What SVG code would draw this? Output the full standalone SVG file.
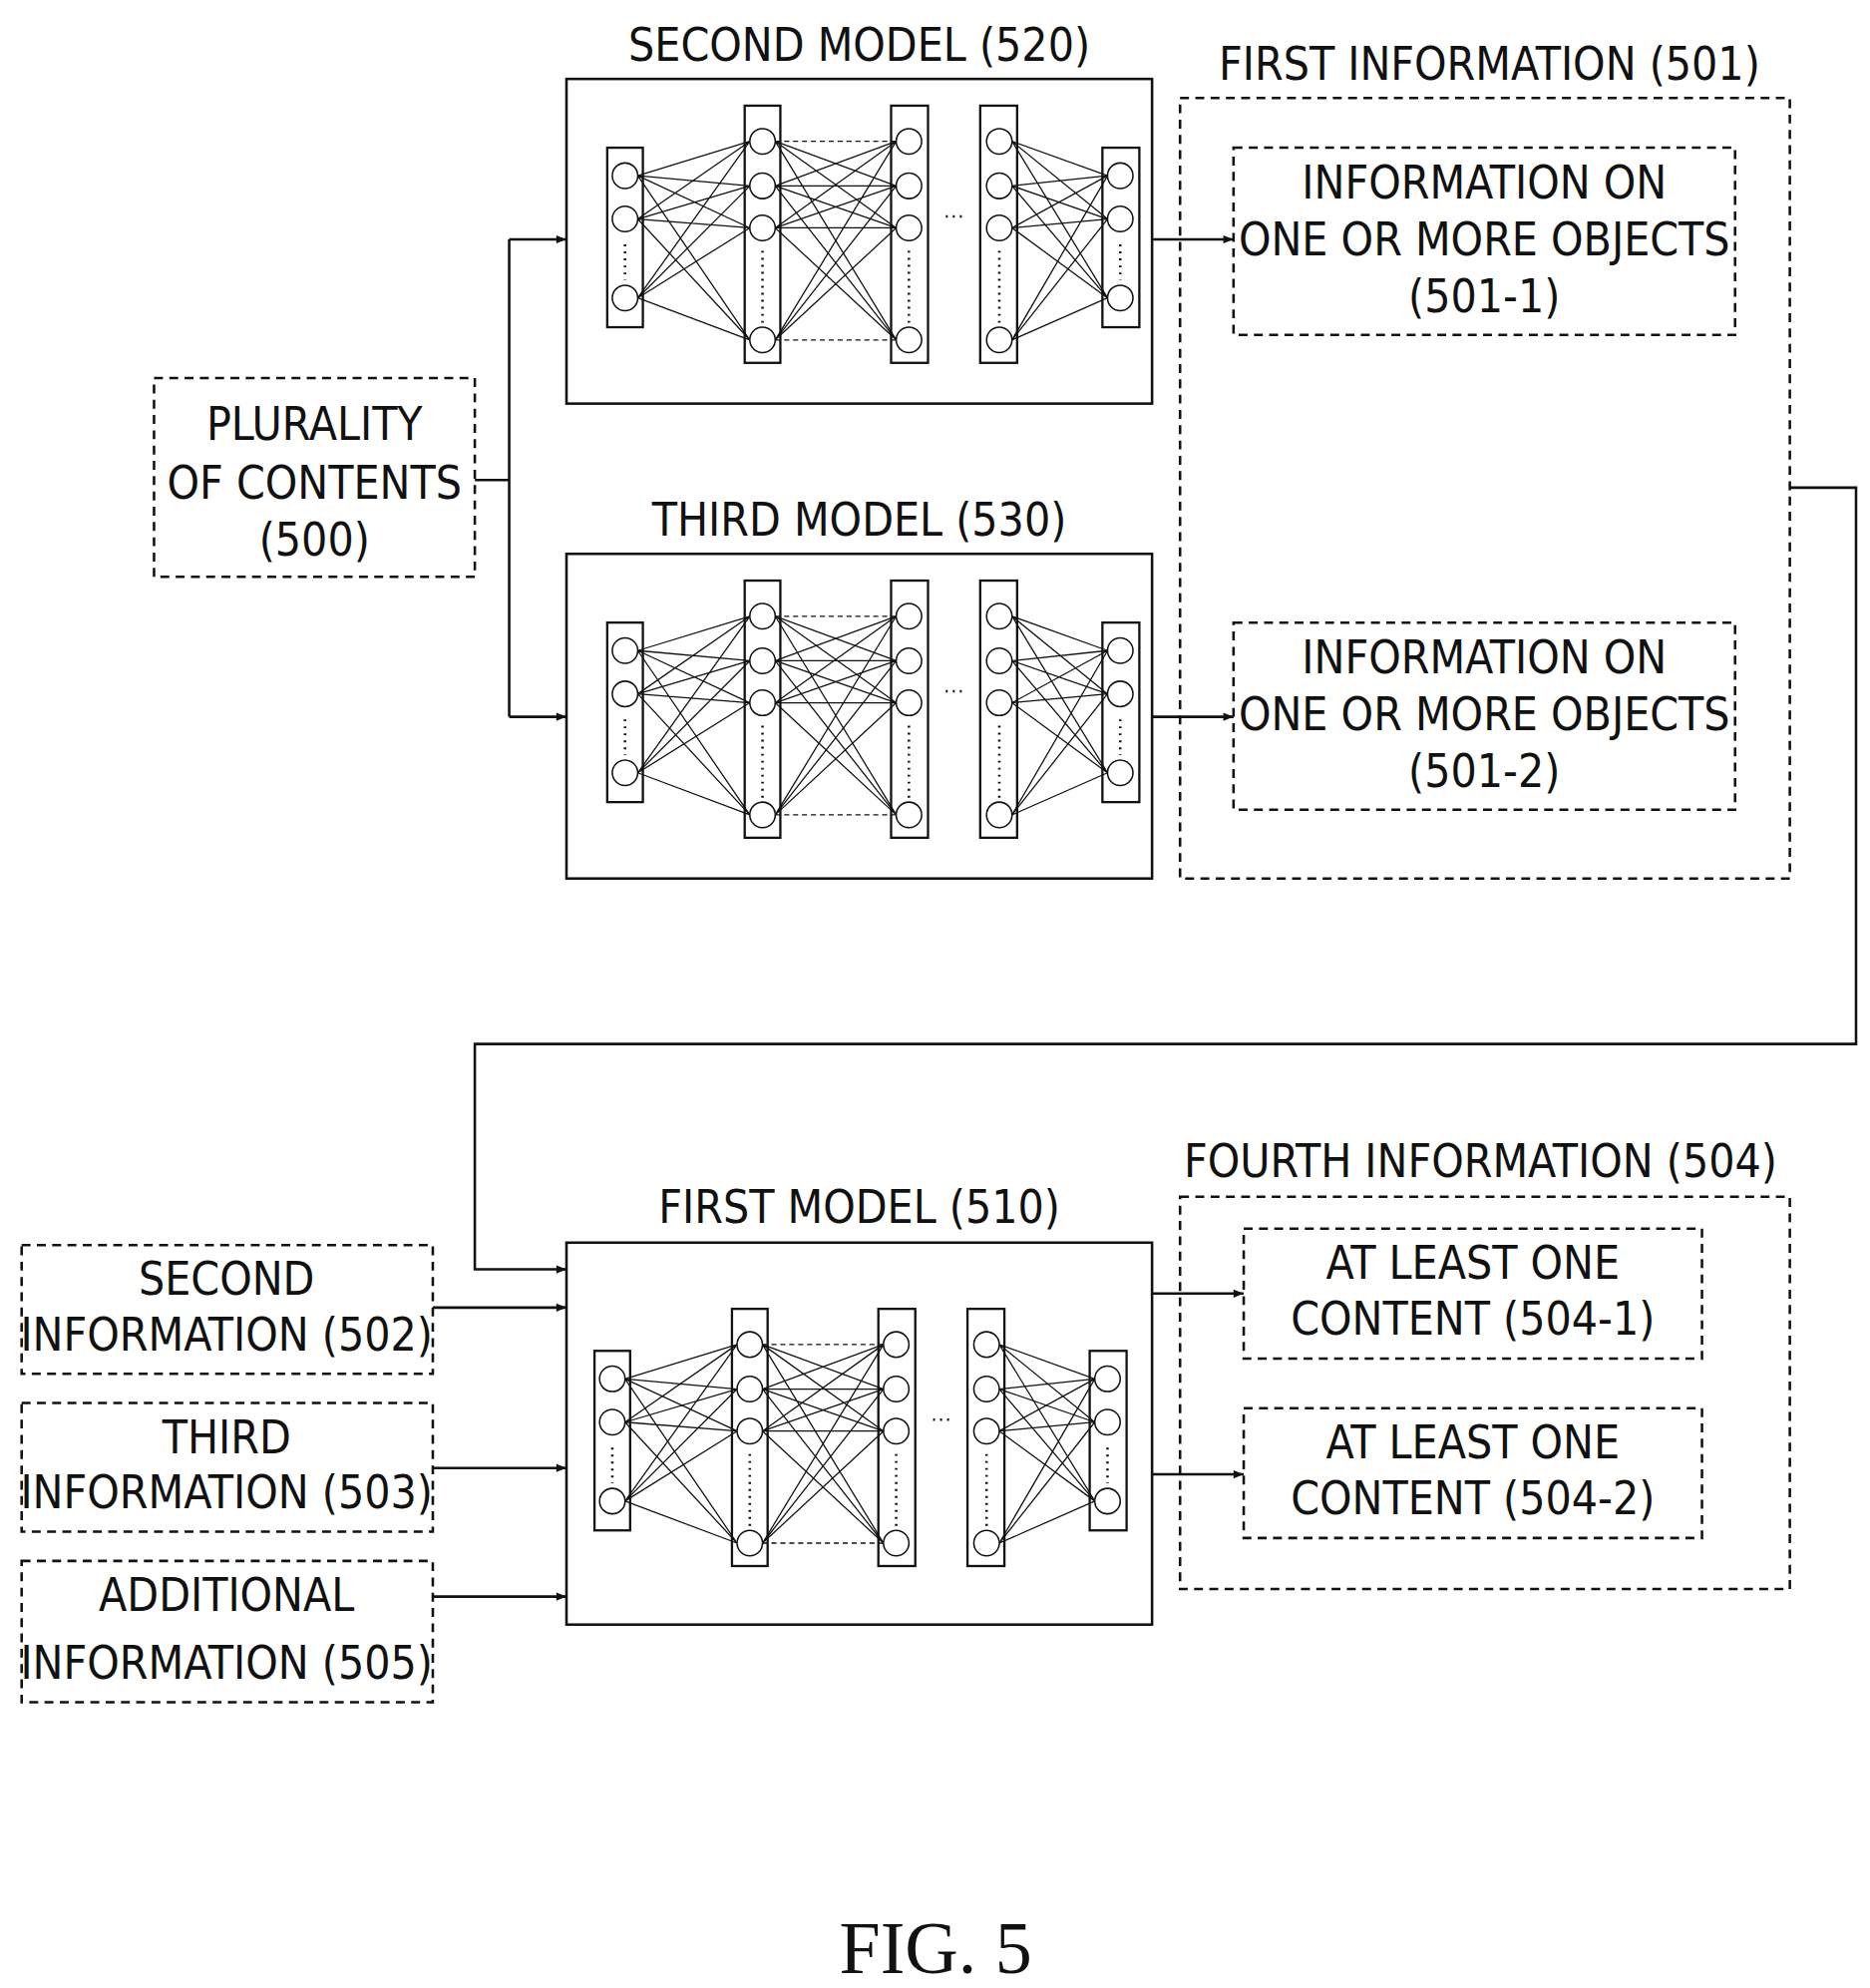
<svg xmlns="http://www.w3.org/2000/svg" xmlns:xlink="http://www.w3.org/1999/xlink" width="1875" height="1993" viewBox="0 0 1875 1993">
<style>
.t{font-family:"DejaVu Sans Condensed","DejaVu Sans",sans-serif;font-size:36px;text-anchor:middle;dominant-baseline:central;fill:#111}
.box{fill:none;stroke:#111;stroke-width:2}
.dbox{fill:none;stroke:#111;stroke-width:2;stroke-dasharray:7 5}
.ly{fill:none;stroke:#111;stroke-width:1.8}
.nd{fill:#fff;stroke:#111;stroke-width:1.2}
.ed{stroke:#111;stroke-width:1}
.cn{fill:none;stroke:#111;stroke-width:2}
</style>
<defs>
<marker id="ar" viewBox="0 0 10 10" refX="10" refY="5" markerWidth="10" markerHeight="8" markerUnits="userSpaceOnUse" orient="auto"><path d="M0,1 L10,5 L0,9 z" fill="#111"/></marker>
<symbol id="net" overflow="visible">
<g class="ed">
<path d="M56,76L144,49M56,76L144,84M56,76L144,117M56,76L144,205M56,110L144,49M56,110L144,84M56,110L144,117M56,110L144,205M56,172L144,49M56,172L144,84M56,172L144,117M56,172L144,205"/>
<path d="M164,84L259,84M164,49L259,84M164,49L259,117M164,49L259,205M164,84L259,49M164,84L259,117M164,84L259,205M164,117L259,49M164,117L259,84M164,117L259,117M164,117L259,205M164,205L259,49M164,205L259,84M164,205L259,117"/>
<path d="M164,49L259,49M164,205L259,205" stroke-dasharray="4 3"/>
<path d="M350,49L425,76M350,49L425,110M350,49L425,172M350,84L425,76M350,84L425,110M350,84L425,172M350,117L425,76M350,117L425,110M350,117L425,172M350,205L425,76M350,205L425,110M350,205L425,172"/>
</g>
<rect class="ly" x="32" y="54" width="28" height="141"/>
<rect class="ly" x="140" y="21" width="28" height="202"/>
<rect class="ly" x="255" y="21" width="29" height="202"/>
<rect class="ly" x="325" y="21" width="29" height="202"/>
<rect class="ly" x="421" y="54" width="29" height="141"/>
<g class="nd">
<circle cx="46" cy="76" r="10"/><circle cx="46" cy="110" r="10"/><circle cx="46" cy="172" r="10"/>
<circle cx="154" cy="49" r="10"/><circle cx="154" cy="84" r="10"/><circle cx="154" cy="117" r="10"/><circle cx="154" cy="205" r="10"/>
<circle cx="269" cy="49" r="10"/><circle cx="269" cy="84" r="10"/><circle cx="269" cy="117" r="10"/><circle cx="269" cy="205" r="10"/>
<circle cx="340" cy="49" r="10"/><circle cx="340" cy="84" r="10"/><circle cx="340" cy="117" r="10"/><circle cx="340" cy="205" r="10"/>
<circle cx="435" cy="76" r="10"/><circle cx="435" cy="110" r="10"/><circle cx="435" cy="172" r="10"/>
</g>
<g stroke="#111" stroke-width="2" stroke-dasharray="1.5 4" fill="none">
<path d="M46,130V158M154,135V192M269,135V192M340,135V192M435,130V158"/>
<path d="M298,108H312"/>
</g>
</symbol>
</defs>
<g transform="scale(1.2764)">
<g id="second-model"><text class="t" x="675" y="35">SECOND MODEL (520)</text><rect class="box" x="445" y="62" width="460" height="255"/><use xlink:href="#net" x="445" y="62"/></g>
<g id="third-model"><text class="t" x="675" y="408">THIRD MODEL (530)</text><rect class="box" x="445" y="435" width="460" height="255"/><use xlink:href="#net" x="445" y="435"/></g>
<g id="first-model"><text class="t" x="675" y="948">FIRST MODEL (510)</text><rect class="box" x="445" y="976" width="460" height="300"/><use xlink:href="#net" x="435" y="1007"/></g>
<g id="plurality"><rect class="dbox" x="121" y="297" width="252" height="156"/><text class="t" x="247" y="333">PLURALITY</text><text class="t" x="247" y="379">OF CONTENTS</text><text class="t" x="247" y="424">(500)</text></g>
<g id="first-info"><text class="t" x="1170" y="50">FIRST INFORMATION (501)</text><rect class="dbox" x="927" y="77" width="479" height="613"/></g>
<g id="info-501-1"><rect class="dbox" x="969" y="116" width="394" height="147"/><text class="t" x="1166" y="143">INFORMATION ON</text><text class="t" x="1166" y="188">ONE OR MORE OBJECTS</text><text class="t" x="1166" y="233">(501-1)</text></g>
<g id="info-501-2"><rect class="dbox" x="969" y="489" width="394" height="147"/><text class="t" x="1166" y="516">INFORMATION ON</text><text class="t" x="1166" y="561">ONE OR MORE OBJECTS</text><text class="t" x="1166" y="606">(501-2)</text></g>
<g id="fourth-info"><text class="t" x="1163" y="912">FOURTH INFORMATION (504)</text><rect class="dbox" x="927" y="940" width="479" height="308"/></g>
<g id="content-504-1"><rect class="dbox" x="977" y="965" width="360" height="102"/><text class="t" x="1157" y="992">AT LEAST ONE</text><text class="t" x="1157" y="1036">CONTENT (504-1)</text></g>
<g id="content-504-2"><rect class="dbox" x="977" y="1106" width="360" height="102"/><text class="t" x="1157" y="1133">AT LEAST ONE</text><text class="t" x="1157" y="1177">CONTENT (504-2)</text></g>
<g id="second-info"><rect class="dbox" x="17" y="978" width="323" height="101"/><text class="t" x="178" y="1004">SECOND</text><text class="t" x="178" y="1048">INFORMATION (502)</text></g>
<g id="third-info"><rect class="dbox" x="17" y="1102" width="323" height="101"/><text class="t" x="178" y="1129">THIRD</text><text class="t" x="178" y="1172">INFORMATION (503)</text></g>
<g id="additional-info"><rect class="dbox" x="17" y="1226" width="323" height="111"/><text class="t" x="178" y="1253">ADDITIONAL</text><text class="t" x="178" y="1306">INFORMATION (505)</text></g>
<g id="connectors">
<path class="cn" d="M373,377H400M400,188V563"/>
<path class="cn" d="M400,188H445" marker-end="url(#ar)"/>
<path class="cn" d="M400,563H445" marker-end="url(#ar)"/>
<path class="cn" d="M905,188H969" marker-end="url(#ar)"/>
<path class="cn" d="M905,563H969" marker-end="url(#ar)"/>
<path class="cn" d="M1406,383H1458V820H373V997H445" marker-end="url(#ar)"/>
<path class="cn" d="M340,1027H445" marker-end="url(#ar)"/>
<path class="cn" d="M340,1153H445" marker-end="url(#ar)"/>
<path class="cn" d="M340,1254H445" marker-end="url(#ar)"/>
<path class="cn" d="M905,1016H977" marker-end="url(#ar)"/>
<path class="cn" d="M905,1158H977" marker-end="url(#ar)"/>
</g>
<text x="735" y="1530" font-family="Liberation Serif,serif" font-size="58" text-anchor="middle" dominant-baseline="central" fill="#111">FIG. 5</text>
</g>
</svg>
